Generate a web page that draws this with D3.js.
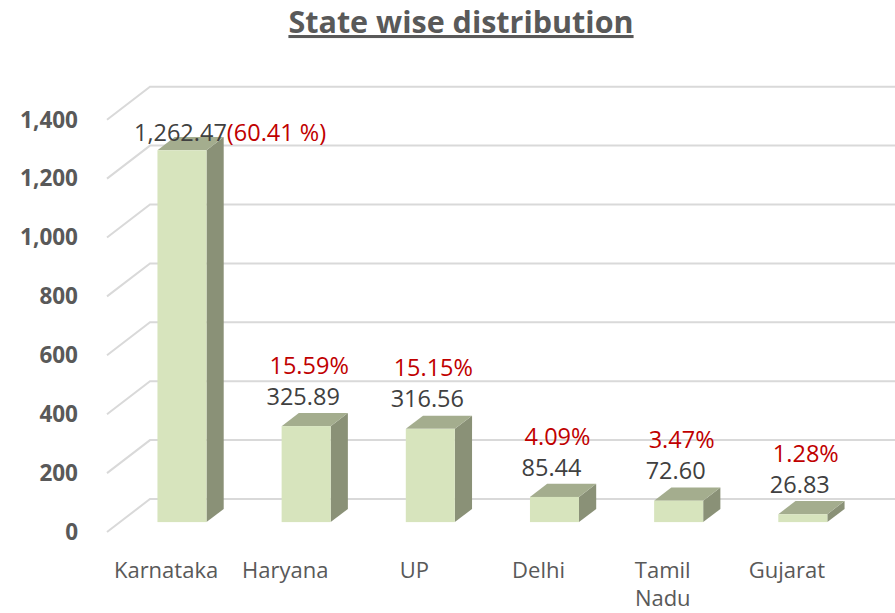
<!DOCTYPE html>
<html>
<head>
<meta charset="utf-8">
<script src="https://cdn.jsdelivr.net/npm/d3@7"></script>
<style>
  html, body { margin: 0; padding: 0; background: #fff; }
  svg { display: block; font-family: "Open Sans", sans-serif; }
</style>
</head>
<body>
<svg id="chart" width="895" height="613"></svg>
<script>
// data
const states = ["Karnataka", "Haryana", "UP", "Delhi", "Tamil Nadu", "Gujarat"];
const values = [1262.47, 325.89, 316.56, 85.44, 72.60, 26.83];
const shares = ["(60.41 %)", "15.59%", "15.15%", "4.09%", "3.47%", "1.28%"];
const ticks = [0, 200, 400, 600, 800, 1000, 1200, 1400];

const svg = d3.select('#chart');
const W = 895, H = 613;

// back wall of the 3d plot, front wall is shifted by (depthX, depthY)
const depthX = -43, depthY = 33;
const x = d3.scaleBand()
  .domain(states)
  .range([150, 895])
  .paddingInner(0.605)
  .paddingOuter(0.3025);
const y = d3.scaleLinear().domain([0, 1400]).range([499, 86.7]);

// z: 0 = back wall, 1 = front
function proj(px, v, z) {
  return [px + depthX * z, y(v) + depthY * z];
}
const zFront = 0.7, zBack = 0.3;

// title
svg.append('text')
  .attr('x', 461)
  .attr('y', 33)
  .attr('text-anchor', 'middle')
  .style('font-size', '30.5px')
  .style('font-weight', 'bold')
  .style('fill', '#595959')
  .style('text-decoration', 'underline')
  .text('State wise distribution');

// gridlines: left wall diagonal + back wall horizontal
const grid = svg.append('g').attr('class', 'grid');
ticks.forEach(function(t) {
  const a = proj(150, t, 1), b = proj(150, t, 0);
  grid.append('polyline')
    .attr('points', [a, b, [W, y(t)]].map(p => p.join(',')).join(' '))
    .style('fill', 'none')
    .style('stroke', '#d9d9d9')
    .style('stroke-width', 2);
});

// y tick labels, aligned to the front end of the grid
svg.append('g')
  .selectAll('text')
  .data(ticks)
  .enter().append('text')
  .attr('x', 78)
  .attr('y', d => proj(150, d, 1)[1])
  .attr('dy', '0.35em')
  .attr('text-anchor', 'end')
  .style('font-size', '22.5px')
  .style('font-weight', 'bold')
  .style('fill', '#595959')
  .text(d => d3.format(',')(d));

// bars
const bars = svg.append('g').attr('class', 'bars')
  .selectAll('g')
  .data(states)
  .enter().append('g');

function poly(pts) { return pts.map(p => p.join(',')).join(' '); }

bars.each(function(s, i) {
  const g = d3.select(this);
  const x0 = x(s), x1 = x(s) + x.bandwidth();
  const v = values[i];
  // side face
  g.append('polygon')
    .attr('points', poly([proj(x1, 0, zFront), proj(x1, 0, zBack), proj(x1, v, zBack), proj(x1, v, zFront)]))
    .style('fill', '#8a9177');
  // top face
  g.append('polygon')
    .attr('points', poly([proj(x0, v, zFront), proj(x1, v, zFront), proj(x1, v, zBack), proj(x0, v, zBack)]))
    .style('fill', '#a4ad8e');
  // front face
  const f0 = proj(x0, v, zFront), f1 = proj(x1, 0, zFront);
  g.append('rect')
    .attr('x', f0[0])
    .attr('y', f0[1])
    .attr('width', f1[0] - f0[0])
    .attr('height', f1[1] - f0[1])
    .style('fill', '#d7e4bd');
});

// value + share labels
const labels = svg.append('g').attr('class', 'labels');
states.forEach(function(s, i) {
  const cx = proj(x(s) + x.bandwidth() / 2, 0, zFront)[0];
  const topY = proj(0, values[i], 0.5)[1];
  const fmt = d3.format(',.2f');
  if (topY - 23 - 31 < 110) {
    // no room above the plot: put both on one line
    const t = labels.append('text')
      .attr('x', cx - 48)
      .attr('y', topY - 11)
      .attr('dy', '0.35em')
      .style('font-size', '23.5px');
    t.append('tspan').style('fill', '#404040').text(fmt(values[i]));
    t.append('tspan').style('fill', '#c00000').text(shares[i]);
  } else {
    labels.append('text')
      .attr('x', cx - 3)
      .attr('y', topY - 23)
      .attr('dy', '0.35em')
      .attr('text-anchor', 'middle')
      .style('font-size', '23.5px')
      .style('fill', '#404040')
      .text(fmt(values[i]));
    labels.append('text')
      .attr('x', cx + 3)
      .attr('y', topY - 54)
      .attr('dy', '0.35em')
      .attr('text-anchor', 'middle')
      .style('font-size', '23.5px')
      .style('fill', '#c00000')
      .text(shares[i]);
  }
});

// category labels at the front of the floor
const cats = svg.append('g').attr('class', 'cats');
states.forEach(function(s, i) {
  const cx = proj(x(s) + x.bandwidth() / 2, 0, 1)[0] - (i === 1 ? 8 : 3);
  const words = s === 'Tamil Nadu' ? ['Tamil', 'Nadu'] : [s];
  words.forEach(function(w, k) {
    cats.append('text')
      .attr('x', cx)
      .attr('y', 570 + k * 28)
      .attr('dy', '0.35em')
      .attr('text-anchor', 'middle')
      .style('font-size', '22px')
      .style('fill', '#595959')
      .text(w);
  });
});
</script>
</body>
</html>
